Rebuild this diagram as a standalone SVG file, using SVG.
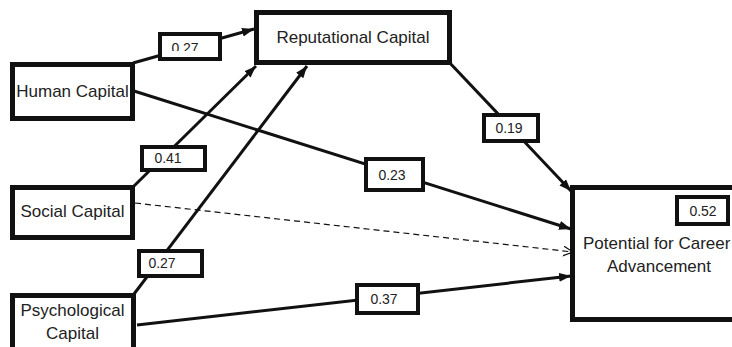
<svg xmlns="http://www.w3.org/2000/svg" width="732" height="347" viewBox="0 0 732 347">
<style>
.node{fill:#fff;stroke:#111;stroke-width:5}
.lbl{fill:#fff;stroke:#111;stroke-width:4}
.edge{stroke:#111;stroke-width:3;fill:none}
.dash{stroke:#111;stroke-width:1.2;fill:none;stroke-dasharray:6,4}
.t{font-family:"Liberation Sans",Arial,sans-serif;font-size:17px;fill:#222}
.n{font-family:"Liberation Sans",Arial,sans-serif;font-size:14px;fill:#222;text-anchor:middle}
</style>
<defs>
<marker id="ah" markerUnits="userSpaceOnUse" markerWidth="13" markerHeight="10" refX="12" refY="4.5" orient="auto">
<path d="M0,0 L12,4.5 L0,9 z" fill="#111"/>
</marker>
<marker id="oh" markerUnits="userSpaceOnUse" markerWidth="12" markerHeight="12" refX="10" refY="5" orient="auto">
<path d="M0,0 L10,5 L0,10" fill="none" stroke="#111" stroke-width="1.2"/>
</marker>
<clipPath id="cl"><rect x="160" y="30" width="70" height="21"/></clipPath>
</defs>
<g id="connectors">
<line class="edge" x1="133" y1="63" x2="254" y2="29" marker-end="url(#ah)"/>
<line class="edge" x1="134" y1="186" x2="256" y2="66" marker-end="url(#ah)"/>
<line class="edge" x1="134" y1="294" x2="307" y2="66" marker-end="url(#ah)"/>
<line class="edge" x1="134" y1="91" x2="571" y2="229" marker-end="url(#ah)"/>
<line class="edge" x1="448" y1="61" x2="571" y2="191" marker-end="url(#ah)"/>
<line class="dash" x1="135" y1="203" x2="573" y2="252" marker-end="url(#oh)"/>
<line class="edge" x1="137" y1="325" x2="571" y2="276" marker-end="url(#ah)"/>
<g id="l1"><rect class="lbl" x="160" y="34" width="60" height="25"/><text class="n" x="185" y="53" clip-path="url(#cl)">0.27</text></g>
<g id="l2"><rect class="lbl" x="142" y="147" width="63" height="23"/><text class="n" x="168" y="163">0.41</text></g>
<g id="l3"><rect class="lbl" x="139" y="251" width="63" height="25"/><text class="n" x="162" y="268">0.27</text></g>
<g id="l4"><rect class="lbl" x="484" y="115" width="54" height="26"/><text class="n" x="509" y="133">0.19</text></g>
<g id="l5"><rect class="lbl" x="366" y="159" width="57" height="31"/><text class="n" x="392" y="180">0.23</text></g>
<g id="l6"><rect class="lbl" x="357" y="285" width="61" height="28"/><text class="n" x="384" y="304">0.37</text></g>
</g>
<g id="human"><rect class="node" x="12.5" y="64.5" width="120" height="54"/><text class="t" x="72.5" y="97" text-anchor="middle">Human Capital</text></g>
<g id="reputational"><rect class="node" x="256.5" y="12.5" width="193" height="50"/><text class="t" x="353" y="43" text-anchor="middle">Reputational Capital</text></g>
<g id="social"><rect class="node" x="12.5" y="187.5" width="120" height="50"/><text class="t" x="72.5" y="217" text-anchor="middle">Social Capital</text></g>
<g id="psychological"><rect class="node" x="12.5" y="295.5" width="121" height="60"/><text class="t" x="72.5" y="316" text-anchor="middle">Psychological</text><text class="t" x="72.5" y="339" text-anchor="middle">Capital</text></g>
<g id="potential"><rect class="node" x="572.5" y="187.5" width="170" height="132"/><rect class="lbl" x="677" y="197" width="51" height="27"/><text class="n" x="703" y="216">0.52</text><text class="t" x="583" y="249">Potential for Career</text><text class="t" x="659" y="272" text-anchor="middle">Advancement</text></g>
</svg>
